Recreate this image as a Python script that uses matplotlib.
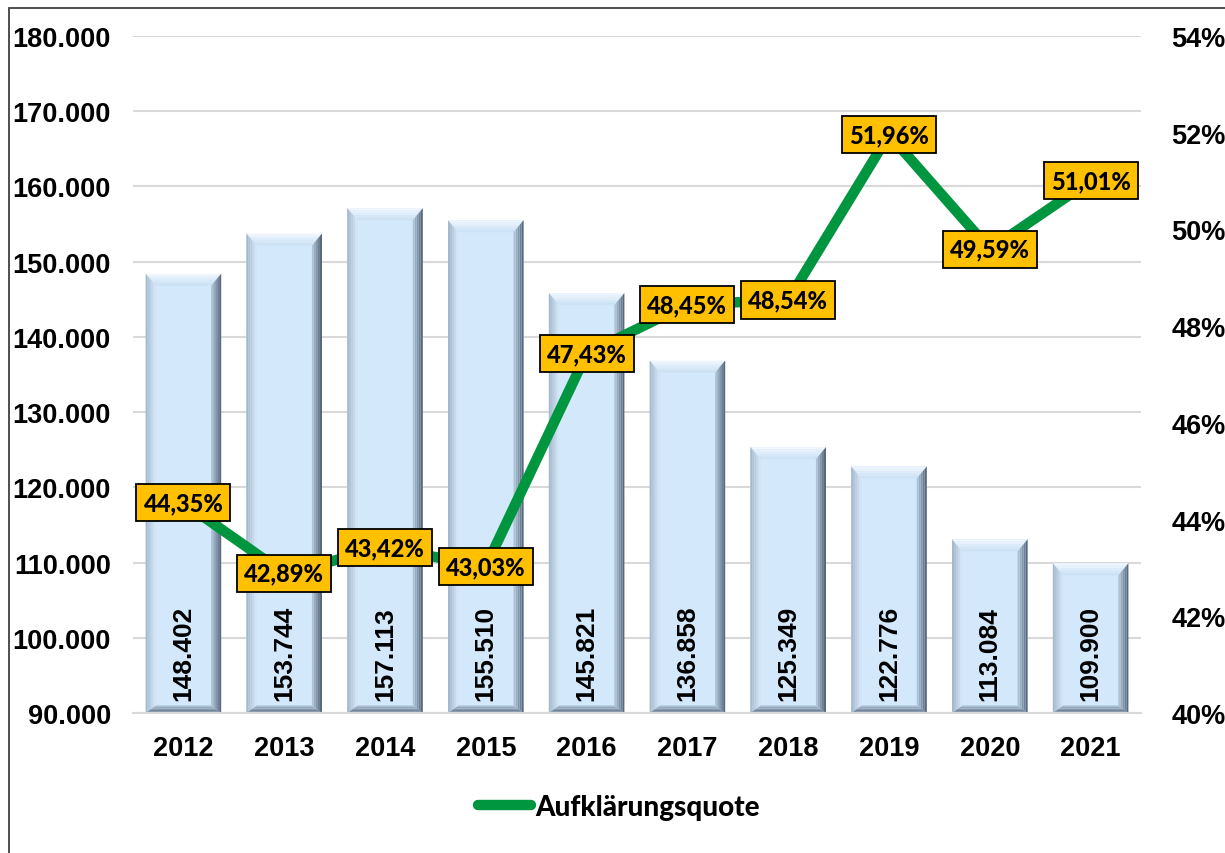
import numpy as np
import matplotlib
matplotlib.use("Agg")
import matplotlib.pyplot as plt
from matplotlib.patches import Polygon, Rectangle
from matplotlib.lines import Line2D

years = ["2012", "2013", "2014", "2015", "2016", "2017", "2018", "2019", "2020", "2021"]
cases = [148402, 153744, 157113, 155510, 145821, 136858, 125349, 122776, 113084, 109900]
quote = [44.35, 42.89, 43.42, 43.03, 47.43, 48.45, 48.54, 51.96, 49.59, 51.01]

left_ticks = np.arange(90000, 180001, 10000)
right_ticks = np.arange(40, 55, 2)

num_font = "Liberation Sans"
lab_font = "Lato"


def mix(c1, c2, t):
    a = np.array(matplotlib.colors.to_rgb(c1))
    b = np.array(matplotlib.colors.to_rgb(c2))
    return tuple(a + (b - a) * t)


def bevel(ax, patch, bx, by_top, by_bot, n=5):
    # fake the excel bevel look with a few graded strips per side
    x0, y0 = patch.get_x(), patch.get_y()
    w, h = patch.get_width(), patch.get_height()
    x1, y1 = x0 + w, y0 + h
    sides = {
        "top": ("#f4f9ff", "#c9dff3"),
        "left": ("#9fb4c8", "#d6e8f9"),
        "right": ("#4f5f72", "#b9cde0"),
        "bottom": ("#5b6b7e", "#b3c6da"),
    }
    for k in range(n):
        t0, t1 = k / n, (k + 1) / n
        c = (t0 + t1) / 2
        # top
        pts = [(x0 + bx * t0, y1 - by_top * t0), (x1 - bx * t0, y1 - by_top * t0),
               (x1 - bx * t1, y1 - by_top * t1), (x0 + bx * t1, y1 - by_top * t1)]
        ax.add_patch(Polygon(pts, closed=True, lw=0, fc=mix(*sides["top"], c), zorder=2.1))
        # bottom
        pts = [(x0 + bx * t0, y0 + by_bot * t0), (x1 - bx * t0, y0 + by_bot * t0),
               (x1 - bx * t1, y0 + by_bot * t1), (x0 + bx * t1, y0 + by_bot * t1)]
        ax.add_patch(Polygon(pts, closed=True, lw=0, fc=mix(*sides["bottom"], c), zorder=2.1))
        # left
        pts = [(x0 + bx * t0, y1 - by_top * t0), (x0 + bx * t1, y1 - by_top * t1),
               (x0 + bx * t1, y0 + by_bot * t1), (x0 + bx * t0, y0 + by_bot * t0)]
        ax.add_patch(Polygon(pts, closed=True, lw=0, fc=mix(*sides["left"], c), zorder=2.1))
        # right
        pts = [(x1 - bx * t0, y1 - by_top * t0), (x1 - bx * t1, y1 - by_top * t1),
               (x1 - bx * t1, y0 + by_bot * t1), (x1 - bx * t0, y0 + by_bot * t0)]
        ax.add_patch(Polygon(pts, closed=True, lw=0, fc=mix(*sides["right"], c), zorder=2.1))


fig = plt.figure(figsize=(12.25, 8.54), dpi=100)
ax = fig.add_axes([133 / 1225, 1 - 714 / 854, 1008 / 1225, 677 / 854])
ax2 = ax.twinx()

x = np.arange(len(years))
ax.set_xlim(-0.5, len(years) - 0.5)
ax.set_ylim(90000, 180000)
ax2.set_ylim(40, 54)

bars = ax.bar(x, np.array(cases) - 90000, bottom=90000, width=0.75,
              color="#d3e8fb", edgecolor="none", zorder=2)
for b in bars:
    bevel(ax, b, 0.1, 1600, 1000)

for xi, v in zip(x, cases):
    ax.text(xi, 91700, f"{v:,}".replace(",", "."), rotation=90, ha="center", va="bottom",
            fontsize=19, fontweight="bold", family=num_font, zorder=3)

ax.set_yticks(left_ticks)
ax.set_yticklabels([f"{v:,}".replace(",", ".") for v in left_ticks])
ax.grid(axis="y", color="#d9d9d9", lw=1.5, zorder=0)
ax.set_axisbelow(True)
ax.set_xticks(x)
ax.set_xticklabels(years)
ax.tick_params(axis="y", length=0, pad=16)
ax.tick_params(axis="x", length=0, pad=16)
for lab in ax.get_yticklabels() + ax.get_xticklabels():
    lab.set_fontsize(19.5)
    lab.set_fontweight("bold")
    lab.set_family(num_font)

ax2.set_yticks(right_ticks)
ax2.set_yticklabels([f"{v}%" for v in right_ticks])
ax2.tick_params(axis="y", length=0, pad=22)
for lab in ax2.get_yticklabels():
    lab.set_fontsize(19.5)
    lab.set_fontweight("bold")
    lab.set_family(num_font)

for a in (ax, ax2):
    for s in ("top", "left", "right"):
        a.spines[s].set_visible(False)
    a.spines["bottom"].set_color("#d9d9d9")
    a.spines["bottom"].set_linewidth(1.5)
ax2.spines["bottom"].set_visible(False)

ax2.plot(x, quote, color="#00963f", lw=7.5, solid_capstyle="butt", zorder=3)
for xi, q in zip(x, quote):
    ax2.text(xi, q, f"{q:.2f}".replace(".", ",") + "%", ha="center", va="center",
             fontsize=17, fontweight="black", family=lab_font, zorder=4,
             bbox=dict(boxstyle="square,pad=0.3", fc="#ffc000", ec="black", lw=1.3))

handle = Line2D([], [], color="#00963f", lw=7.5, solid_capstyle="round")
leg = fig.legend([handle], ["Aufklärungsquote"], loc="center", bbox_to_anchor=(0.505, 0.054),
                 frameon=False, handlelength=1.9, handletextpad=0.15,
                 prop=dict(family=lab_font, weight="black", size=20))

fig.patches.append(Rectangle((9 / 1225, -0.1), 1.2, 0.1 + 1 - 9 / 854, fill=False,
                             ec="#404040", lw=1.3, transform=fig.transFigure))

fig.savefig("out.png", dpi=100)
